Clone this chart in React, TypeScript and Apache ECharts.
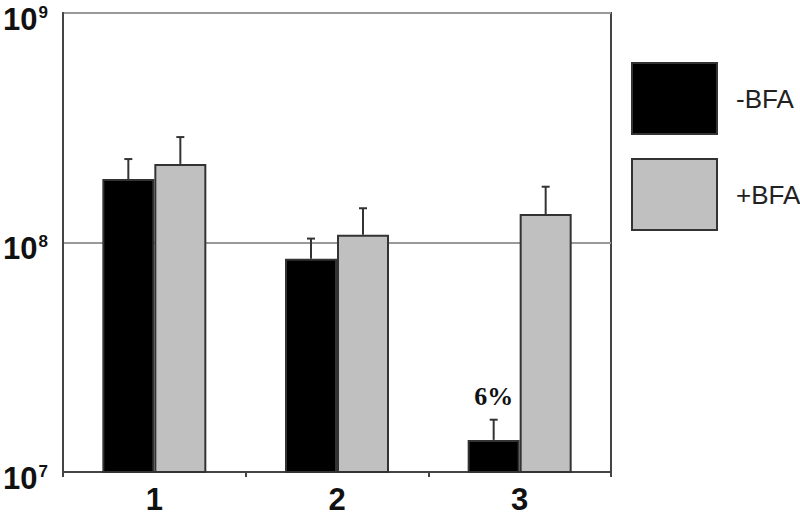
import React, { useEffect, useRef } from "react";
import * as echarts from "echarts";

const categories = ["1", "2", "3"];
const minusBFA = [1.89e8, 8.5e7, 1.38e7];
const plusBFA = [2.2e8, 1.08e8, 1.33e8];
const minusBFAErrTop = [2.31e8, 1.04e8, 1.69e7];
const plusBFAErrTop = [2.88e8, 1.41e8, 1.75e8];
const seriesNames = ["-BFA", "+BFA"];
const annotationText = "6%";

const FONT = "'Liberation Sans', Arial, sans-serif";

export default function App() {
  const ref = useRef<HTMLDivElement>(null);
  useEffect(() => {
    if (!ref.current) return;
    const chart = echarts.init(ref.current, null, { renderer: "svg" });
    const barW = 52;

    const errRender = (dx: number) => (params: any, api: any) => {
      const ci = api.value(0);
      const lo = api.coord([ci, api.value(1)]);
      const hi = api.coord([ci, api.value(2)]);
      const x = lo[0] + dx;
      const style = { stroke: "#333", lineWidth: 2 };
      return {
        type: "group",
        children: [
          { type: "line", shape: { x1: x, y1: lo[1], x2: x, y2: hi[1] }, style },
          { type: "line", shape: { x1: x - 4, y1: hi[1], x2: x + 4, y2: hi[1] }, style },
        ],
      };
    };

    chart.setOption({
      animation: false,
      backgroundColor: "#fff",
      grid: {
        left: 63,
        top: 13,
        right: 189,
        bottom: 45,
        outerBoundsMode: "none",
        containLabel: false,
        show: true,
        borderColor: "#444",
        borderWidth: 2,
        backgroundColor: "transparent",
      },
      legend: {
        data: seriesNames,
        orient: "vertical",
        left: 631,
        top: 62,
        padding: 0,
        itemWidth: 85,
        itemHeight: 71,
        itemGap: 23,
        icon: "rect",
        itemStyle: { borderColor: "#333", borderWidth: 2 },
        textStyle: {
          fontFamily: FONT,
          fontSize: 26,
          color: "#222",
          padding: [0, 0, 0, 14],
        },
        selectedMode: false,
      },
      xAxis: {
        type: "category",
        data: categories,
        axisLine: { show: true, lineStyle: { color: "#444", width: 2 } },
        axisTick: { show: true, length: 5, lineStyle: { color: "#444", width: 2 } },
        axisLabel: {
          fontFamily: FONT,
          fontWeight: "bold",
          fontSize: 31,
          color: "#111",
          margin: 12,
        },
      },
      yAxis: {
        type: "log",
        logBase: 10,
        min: 1e7,
        max: 1e9,
        axisLine: { show: true, lineStyle: { color: "#444", width: 2 } },
        axisTick: { show: false },
        splitLine: { show: true, lineStyle: { color: "#999", width: 2 } },
        axisLabel: {
          margin: 15,
          formatter: (v: number) => {
            const e = Math.round(Math.log10(v));
            return "{b|10}{s|" + e + "}";
          },
          rich: {
            b: {
              fontFamily: FONT,
              fontWeight: "bold",
              fontSize: 31,
              color: "#111",
              lineHeight: 31,
              padding: [12, 0, 0, 0],
            },
            s: {
              fontFamily: FONT,
              fontWeight: "bold",
              fontSize: 17,
              color: "#111",
              lineHeight: 17,
              padding: [0, 0, 2, 1],
            },
          },
        },
      },
      series: [
        {
          name: seriesNames[0],
          type: "bar",
          barWidth: barW,
          barGap: 0,
          clip: true,
          itemStyle: { color: "#000", borderColor: "#333", borderWidth: 2 },
          data: minusBFA.map((v, i) =>
            i === 2
              ? {
                  value: v,
                  label: {
                    show: true,
                    position: "top",
                    distance: 30,
                    formatter: annotationText,
                    fontFamily: "'Liberation Serif', 'Times New Roman', serif",
                    fontWeight: "bold",
                    fontSize: 26,
                    color: "#111",
                  },
                }
              : v
          ),
        },
        {
          name: seriesNames[1],
          type: "bar",
          barWidth: barW,
          barGap: 0,
          clip: true,
          itemStyle: { color: "#c0c0c0", borderColor: "#333", borderWidth: 2 },
          data: plusBFA,
        },
        {
          type: "custom",
          z: 5,
          renderItem: errRender(-barW / 2),
          encode: { x: 0, y: [1, 2] },
          data: minusBFA.map((v, i) => [i, v, minusBFAErrTop[i]]),
        },
        {
          type: "custom",
          z: 5,
          renderItem: errRender(barW / 2),
          encode: { x: 0, y: [1, 2] },
          data: plusBFA.map((v, i) => [i, v, plusBFAErrTop[i]]),
        },
      ],
    });
    return () => chart.dispose();
  }, []);
  return <div ref={ref} style={{ width: 800, height: 517, position: "absolute", left: 0, top: 0 }} />;
}
